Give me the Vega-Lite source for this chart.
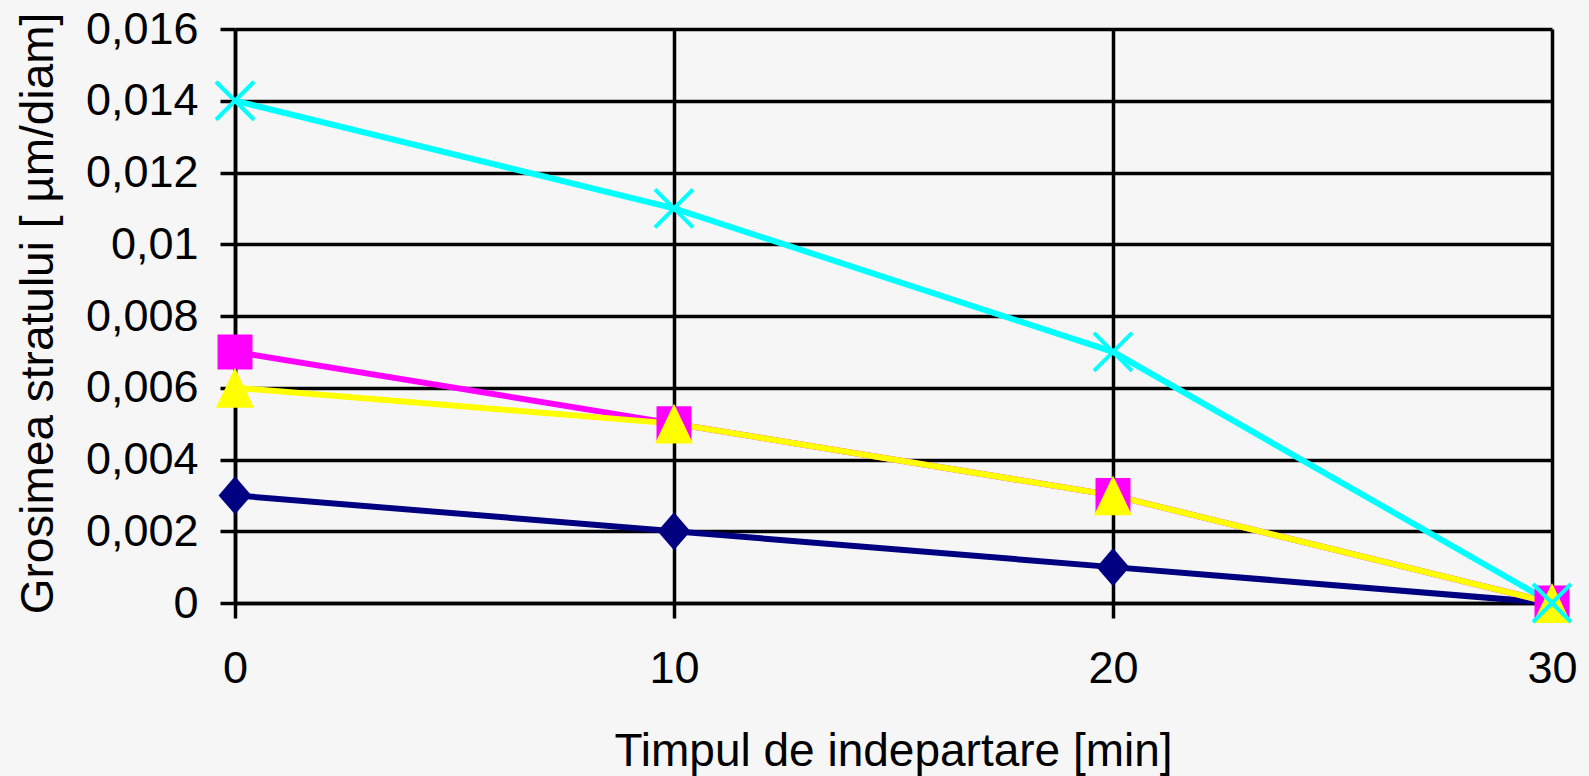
{
  "$schema": "https://vega.github.io/schema/vega-lite/v6.json",
  "autosize": "none",
  "width": 1317,
  "height": 574,
  "padding": {"left": 235, "top": 29, "right": 37, "bottom": 173},
  "background": "#f6f6f6",
  "config": {
    "view": {"stroke": null, "fill": "#f6f6f6"},
    "font": "Liberation Sans",
    "axis": {
      "domainColor": "black", "domainWidth": 3.5,
      "gridColor": "black", "gridWidth": 3.5, "gridOpacity": 1,
      "tickColor": "black", "tickWidth": 3.5, "tickSize": 15,
      "labelFont": "Liberation Sans", "labelFontSize": 45, "labelColor": "black",
      "titleFont": "Liberation Sans", "titleFontSize": 46, "titleFontWeight": "normal", "titleColor": "black"
    }
  },
  "data": {
    "values": [
      {"t": 0, "v": 0.003, "s": "s1"},
      {"t": 10, "v": 0.002, "s": "s1"},
      {"t": 20, "v": 0.001, "s": "s1"},
      {"t": 30, "v": 0, "s": "s1"},
      {"t": 0, "v": 0.007, "s": "s2"},
      {"t": 10, "v": 0.005, "s": "s2"},
      {"t": 20, "v": 0.003, "s": "s2"},
      {"t": 30, "v": 0, "s": "s2"},
      {"t": 0, "v": 0.006, "s": "s3"},
      {"t": 10, "v": 0.005, "s": "s3"},
      {"t": 20, "v": 0.003, "s": "s3"},
      {"t": 30, "v": 0, "s": "s3"},
      {"t": 0, "v": 0.014, "s": "s4"},
      {"t": 10, "v": 0.011, "s": "s4"},
      {"t": 20, "v": 0.007, "s": "s4"},
      {"t": 30, "v": 0, "s": "s4"}
    ]
  },
  "encoding": {
    "x": {
      "field": "t", "type": "quantitative",
      "scale": {"domain": [0, 30], "nice": false, "zero": false},
      "axis": {
        "values": [0, 10, 20, 30], "labelFlush": false, "labelPadding": 28,
        "title": "Timpul de indepartare [min]",
        "titleX": 658, "titleY": 162, "titleBaseline": "alphabetic", "titleAlign": "center"
      }
    },
    "y": {
      "field": "v", "type": "quantitative",
      "scale": {"domain": [0, 0.016], "nice": false},
      "axis": {
        "values": [0, 0.002, 0.004, 0.006, 0.008, 0.01, 0.012, 0.014, 0.016],
        "labelExpr": "replace(toString(datum.value), '.', ',')",
        "labelPadding": 22, "labelFlush": false,
        "title": "Grosimea stratului [ µm/diam]",
        "titleAngle": -90, "titleX": -183, "titleY": 284,
        "titleBaseline": "alphabetic", "titleAlign": "center"
      }
    },
    "color": {
      "field": "s", "type": "nominal",
      "scale": {"domain": ["s1", "s2", "s3", "s4"], "range": ["#000080", "#FF00FF", "#FFFF00", "#00FFFF"]},
      "legend": null
    }
  },
  "layer": [
    {
      "mark": {"type": "line", "strokeWidth": 6},
      "encoding": {"detail": {"field": "s"}}
    },
    {
      "transform": [{"filter": "datum.s != 's4'"}],
      "mark": {"type": "point", "filled": true, "opacity": 1, "size": 1225, "strokeWidth": 0},
      "encoding": {
        "shape": {
          "field": "s", "type": "nominal",
          "scale": {
            "domain": ["s1", "s2", "s3"],
            "range": [
              "M0,-1.09L0.94,0L0,1.09L-0.94,0Z",
              "M-1,-1H1V1H-1Z",
              "M0,-1.14L1.086,1.14L-1.086,1.14Z"
            ]
          },
          "legend": null
        }
      }
    },
    {
      "transform": [{"filter": "datum.s == 's4'"}],
      "mark": {
        "type": "point", "filled": false, "opacity": 1, "size": 1225, "strokeWidth": 4,
        "shape": "M-1.086,-1.086L1.086,1.086M1.086,-1.086L-1.086,1.086"
      }
    }
  ]
}
